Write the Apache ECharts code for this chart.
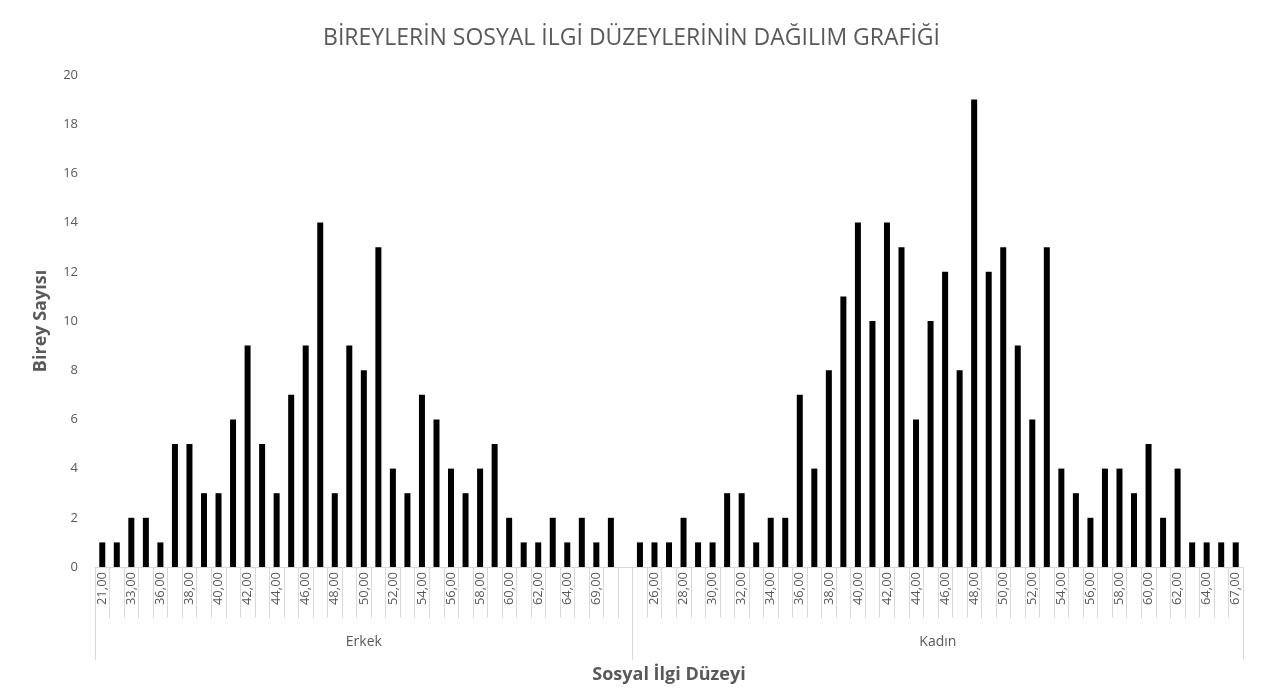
<!DOCTYPE html>
<html>
<head>
<meta charset="utf-8">
<script src="https://cdn.jsdelivr.net/npm/echarts@6/dist/echarts.min.js"></script>
<style>
html,body{margin:0;padding:0;background:#fff;}
#c{width:1263px;height:697px;}
</style>
</head>
<body>
<div id="c"></div>
<script>
// Group names
const groups = ['Erkek', 'Kadın'];
// Erkek: score categories (last slot empty) and counts
const erkekScores = [21, 32, 33, 35, 36, 37, 38, 39, 40, 41, 42, 43, 44, 45, 46, 47, 48, 49, 50, 51, 52, 53, 54, 55, 56, 57, 58, 59, 60, 61, 62, 63, 64, 66, 69, 70, null];
const erkekCounts = [1, 1, 2, 2, 1, 5, 5, 3, 3, 6, 9, 5, 3, 7, 9, 14, 3, 9, 8, 13, 4, 3, 7, 6, 4, 3, 4, 5, 2, 1, 1, 2, 1, 2, 1, 2, null];
// Kadın: score categories and counts
const kadinScores = [25, 26, 27, 28, 29, 30, 31, 32, 33, 34, 35, 36, 37, 38, 39, 40, 41, 42, 43, 44, 45, 46, 47, 48, 49, 50, 51, 52, 53, 54, 55, 56, 57, 58, 59, 60, 61, 62, 63, 64, 65, 67];
const kadinCounts = [1, 1, 1, 2, 1, 1, 3, 3, 1, 2, 2, 7, 4, 8, 11, 14, 10, 14, 13, 6, 10, 12, 8, 19, 12, 13, 9, 6, 13, 4, 3, 2, 4, 4, 3, 5, 2, 4, 1, 1, 1, 1];
// Y ticks
const yTicks = [0, 2, 4, 6, 8, 10, 12, 14, 16, 18, 20];

const fmt = v => (v === null ? '' : v.toFixed(2).replace('.', ','));
const categories = erkekScores.map(fmt).concat(kadinScores.map(fmt));
const values = erkekCounts.concat(kadinCounts);
const nE = erkekScores.length, nK = kadinScores.length, nAll = nE + nK;
const groupBounds = [0, nE, nAll];
const groupCenters = [nE / 2, nE + nK / 2];

const gray = '#595959';
const lineGray = '#d9d9d9';
const chart = echarts.init(document.getElementById('c'));
chart.setOption({
  animation: false,
  backgroundColor: '#fff',
  title: {
    text: 'BİREYLERİN SOSYAL İLGİ DÜZEYLERİNİN DAĞILIM GRAFİĞİ',
    left: 'center', top: 22,
    textStyle: { fontFamily: 'Open Sans', fontWeight: 'normal', fontSize: 23, color: gray }
  },
  grid: { left: 95, right: 20, top: 75, bottom: 130, containLabel: false },
  xAxis: [
    {
      type: 'category',
      data: categories,
      position: 'bottom',
      name: 'Sosyal İlgi Düzeyi',
      nameLocation: 'middle',
      nameGap: 99,
      nameTextStyle: { fontFamily: 'Open Sans', fontWeight: 'bold', fontSize: 18, color: gray },
      axisLine: { show: true, lineStyle: { color: lineGray, width: 1 } },
      axisTick: { show: true, interval: 0, length: 51, lineStyle: { color: lineGray } },
      axisLabel: { interval: 1, rotate: 90, margin: 5, fontFamily: 'Open Sans', fontSize: 13, color: gray },
      splitLine: { show: false }
    },
    {
      type: 'value',
      min: 0, max: nAll,
      position: 'bottom',
      offset: 0,
      axisLine: { show: false },
      axisTick: { show: true, customValues: groupBounds, length: 93, lineStyle: { color: lineGray } },
      axisLabel: {
        customValues: groupCenters, margin: 68,
        fontFamily: 'Open Sans', fontSize: 14, color: gray,
        formatter: v => (v < nE ? groups[0] : groups[1])
      },
      splitLine: { show: false }
    }
  ],
  yAxis: {
    type: 'value',
    min: yTicks[0], max: yTicks[yTicks.length - 1], interval: 2,
    name: 'Birey Sayısı',
    nameLocation: 'middle',
    nameGap: 45,
    nameTextStyle: { fontFamily: 'Open Sans', fontWeight: 'bold', fontSize: 18, color: gray },
    axisLine: { show: false },
    axisTick: { show: false },
    axisLabel: { margin: 17, fontFamily: 'Open Sans', fontSize: 13, color: gray },
    splitLine: { show: false }
  },
  series: [{
    type: 'bar',
    xAxisIndex: 0,
    data: values,
    barWidth: 6,
    itemStyle: { color: '#000' }
  }]
});
</script>
</body>
</html>
